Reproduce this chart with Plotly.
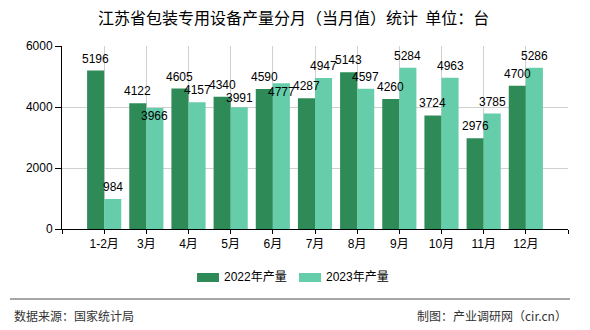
import plotly.graph_objects as go

categories = ["1-2月", "3月", "4月", "5月", "6月", "7月", "8月", "9月", "10月", "11月", "12月"]
prod_2022 = [5196, 4122, 4605, 4340, 4590, 4287, 5143, 4260, 3724, 2976, 4700]
prod_2023 = [984, 3966, 4157, 3991, 4777, 4947, 4597, 5284, 4963, 3785, 5286]
series_names = ["2022年产量", "2023年产量"]
y_ticks = [0, 2000, 4000, 6000]

# label vertical nudges (px) for overlapping labels
shift_2022 = [12] * 11
shift_2023 = [12, -8, 12, 9, -9, 12, 12, 12, 12, 12, 12]

C1 = "#2e8b57"
C2 = "#66cdaa"
FONT = "Liberation Sans, Noto Sans CJK SC, sans-serif"

W, H = 590, 330
L, R, T, B = 62, 568, 46, 229


def px(x):
    return (x - L) / (R - L)


def py(y):
    return (B - y) / (B - T)


xs = list(range(1, len(categories) + 1))

fig = go.Figure()
fig.add_trace(go.Bar(x=xs, y=prod_2022, name=series_names[0], marker_color=C1,
                     marker_line_width=0, showlegend=False))
fig.add_trace(go.Bar(x=xs, y=prod_2023, name=series_names[1], marker_color=C2,
                     marker_line_width=0, showlegend=False))

bargap = 0.19
half = (1 - bargap) / 4
ann = []
for i, x in enumerate(xs):
    ann.append(dict(x=x - half, y=prod_2022[i], text=str(prod_2022[i]), showarrow=False,
                    xref="x", yref="y", yanchor="middle", yshift=shift_2022[i],
                    font=dict(size=12, color="#000", family=FONT)))
    ann.append(dict(x=x + half, y=prod_2023[i], text=str(prod_2023[i]), showarrow=False,
                    xref="x", yref="y", yanchor="middle", yshift=shift_2023[i],
                    font=dict(size=12, color="#000", family=FONT)))

# title
ann.append(dict(x=px(293), y=py(17), xref="paper", yref="paper", showarrow=False,
                text="江苏省包装专用设备产量分月（当月值）统计  单位：台",
                font=dict(size=16, color="#000", family="Noto Sans CJK SC"),
                xanchor="center", yanchor="middle"))

# legend (manual)
shapes = []
legend_items = [(197, C1, series_names[0]), (299, C2, series_names[1])]
for x0, col, name in legend_items:
    shapes.append(dict(type="rect", xref="paper", yref="paper",
                       x0=px(x0), x1=px(x0 + 22), y0=py(282), y1=py(273),
                       fillcolor=col, line_width=0))
    ann.append(dict(x=px(x0 + 25), y=py(277), xref="paper", yref="paper", showarrow=False,
                    text=name, xanchor="left", yanchor="middle",
                    font=dict(size=12, color="#000", family=FONT)))

# footer
shapes.append(dict(type="line", xref="paper", yref="paper",
                   x0=px(10), x1=px(570), y0=py(299), y1=py(299),
                   line=dict(color="#888", width=1.5)))
ann.append(dict(x=px(12), y=py(315), xref="paper", yref="paper", showarrow=False,
                text="数据来源：国家统计局", xanchor="left", yanchor="middle",
                font=dict(size=12, color="#333", family="Noto Sans CJK SC")))
ann.append(dict(x=px(569), y=py(315), xref="paper", yref="paper", showarrow=False,
                text="制图：产业调研网（cir.cn）", xanchor="right", yanchor="middle",
                font=dict(size=12, color="#333", family="Noto Sans CJK SC")))

fig.update_layout(
    width=W, height=H,
    margin=dict(l=L, r=W - R, t=T, b=H - B, pad=0),
    paper_bgcolor="white", plot_bgcolor="white",
    barmode="group", bargap=bargap, bargroupgap=0,
    annotations=ann, shapes=shapes,
    font=dict(family=FONT, size=12, color="#000"),
)
fig.update_xaxes(
    range=[0, len(categories) + 1],
    tickmode="array",
    tickvals=list(range(0, len(categories) + 2)),
    ticktext=[""] + categories + [""],
    showgrid=True, gridcolor="#d0d0d0", gridwidth=1,
    showline=True, linecolor="#000", linewidth=1,
    ticks="outside", ticklen=4, tickcolor="#000",
    tickfont=dict(size=12, color="#000", family=FONT),
    zeroline=False, fixedrange=True,
)
fig.update_yaxes(
    range=[0, 6000],
    tickmode="array", tickvals=y_ticks,
    showgrid=True, gridcolor="#d0d0d0", gridwidth=1,
    showline=True, linecolor="#000", linewidth=1,
    ticks="outside", ticklen=6, tickcolor="#000",
    tickfont=dict(size=12, color="#000", family=FONT),
    zeroline=False, fixedrange=True,
)

fig.write_html("out.html", config={"displayModeBar": False})
